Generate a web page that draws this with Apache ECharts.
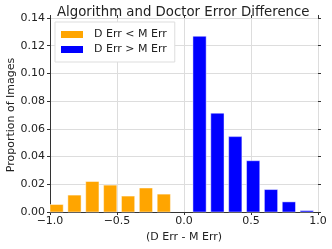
<!DOCTYPE html>
<html><head><meta charset="utf-8">
<script src="https://cdn.jsdelivr.net/npm/echarts@6/dist/echarts.min.js"></script>
<style>html,body{margin:0;padding:0;background:#fff}#c{width:332px;height:249px}</style>
</head><body><div id="c"></div>
<script>
var binStart = -1.0;
var binWidth = 2 / 15;
var orangeBins = [0, 1, 2, 3, 4, 5, 6];
var orangeValues = [0.0054, 0.0122, 0.0220, 0.0194, 0.0115, 0.0173, 0.0129];
var blueBins = [8, 9, 10, 11, 12, 13, 14];
var blueValues = [0.1268, 0.0713, 0.0544, 0.0370, 0.0162, 0.0073, 0.0010];
var xTicks = [-1.0, -0.5, 0.0, 0.5, 1.0];
var yTicks = [0.00, 0.02, 0.04, 0.06, 0.08, 0.10, 0.12, 0.14];
var seriesNames = ['D Err < M Err', 'D Err > M Err'];
var barFraction = 0.74;

function toData(bins, vals) {
  return bins.map(function (b, i) {
    return [binStart + b * binWidth, binStart + (b + barFraction) * binWidth, vals[i]];
  });
}
function renderBar(params, api) {
  var p0 = api.coord([api.value(0), 0]);
  var p1 = api.coord([api.value(1), api.value(2)]);
  return {
    type: 'rect',
    shape: { x: p0[0], y: p1[1], width: p1[0] - p0[0], height: p0[1] - p1[1] },
    style: { fill: api.visual('color'), stroke: 'rgba(255,255,255,0.45)', lineWidth: 1 }
  };
}
var fmtNum = function (v, d) { var s = v.toFixed(d); return s.replace('-', '\u2212'); };
var font = 'DejaVu Sans';
var chart = echarts.init(document.getElementById('c'), null, { renderer: 'canvas' });
chart.setOption({
  animation: false,
  backgroundColor: '#ffffff',
  textStyle: { fontFamily: font },
  title: {
    text: 'Algorithm and Doctor Error Difference', left: 52, top: 1,
    textStyle: { fontFamily: font, fontSize: 13.3, fontWeight: 'normal', color: '#222' }
  },
  legend: {
    left: 55, top: 22, orient: 'vertical', itemWidth: 22, itemHeight: 7, itemGap: 4,
    padding: [7, 8, 7, 6], backgroundColor: '#ffffff', borderColor: '#dddddd', borderWidth: 1,
    icon: 'rect', data: seriesNames,
    textStyle: { fontFamily: font, fontSize: 11, color: '#222', padding: [0, 0, 0, 6] }
  },
  grid: { left: 50, right: 14, top: 18, bottom: 37, containLabel: false, outerBoundsMode: 'none' },
  xAxis: [{
    type: 'value', min: -1, max: 1, interval: 0.5,
    name: '(D Err - M Err)', nameLocation: 'middle', nameGap: 20, nameMoveOverlap: false,
    nameTextStyle: { fontFamily: font, fontSize: 11, color: '#222' },
    axisLine: { show: true, onZero: false, lineStyle: { color: '#333', width: 1 } },
    axisTick: { show: true, length: 3, lineStyle: { color: '#333' } },
    axisLabel: { fontFamily: font, fontSize: 11, color: '#222', margin: 4, formatter: function (v) { return fmtNum(v, 1); } },
    splitLine: { show: true, lineStyle: { color: '#dddddd', width: 1 } }
  }, {
    type: 'value', min: -1, max: 1, interval: 0.5, position: 'top',
    axisLine: { show: false, onZero: false }, axisTick: { show: true, length: 3, lineStyle: { color: '#333' } },
    axisLabel: { show: false }, splitLine: { show: false }
  }],
  yAxis: [{
    type: 'value', min: 0, max: 0.14, interval: 0.02,
    name: 'Proportion of Images', nameLocation: 'middle', nameGap: 33, nameMoveOverlap: false,
    nameTextStyle: { fontFamily: font, fontSize: 11, color: '#222' },
    axisLine: { show: true, onZero: false, lineStyle: { color: '#333', width: 1 } },
    axisTick: { show: true, length: 3, lineStyle: { color: '#333' } },
    axisLabel: { fontFamily: font, fontSize: 11, color: '#222', margin: 5, formatter: function (v) { return fmtNum(v, 2); } },
    splitLine: { show: true, lineStyle: { color: '#dddddd', width: 1 } }
  }, {
    type: 'value', min: 0, max: 0.14, interval: 0.02, position: 'right',
    axisLine: { show: false, onZero: false }, axisTick: { show: true, length: 3, lineStyle: { color: '#333' } },
    axisLabel: { show: false }, splitLine: { show: false }
  }],
  series: [{
    name: seriesNames[0], type: 'custom', renderItem: renderBar, color: '#FFA500',
    encode: { x: [0, 1], y: 2 }, data: toData(orangeBins, orangeValues)
  }, {
    name: seriesNames[1], type: 'custom', renderItem: renderBar, color: '#0000FF',
    encode: { x: [0, 1], y: 2 }, data: toData(blueBins, blueValues)
  }]
});
</script></body></html>
